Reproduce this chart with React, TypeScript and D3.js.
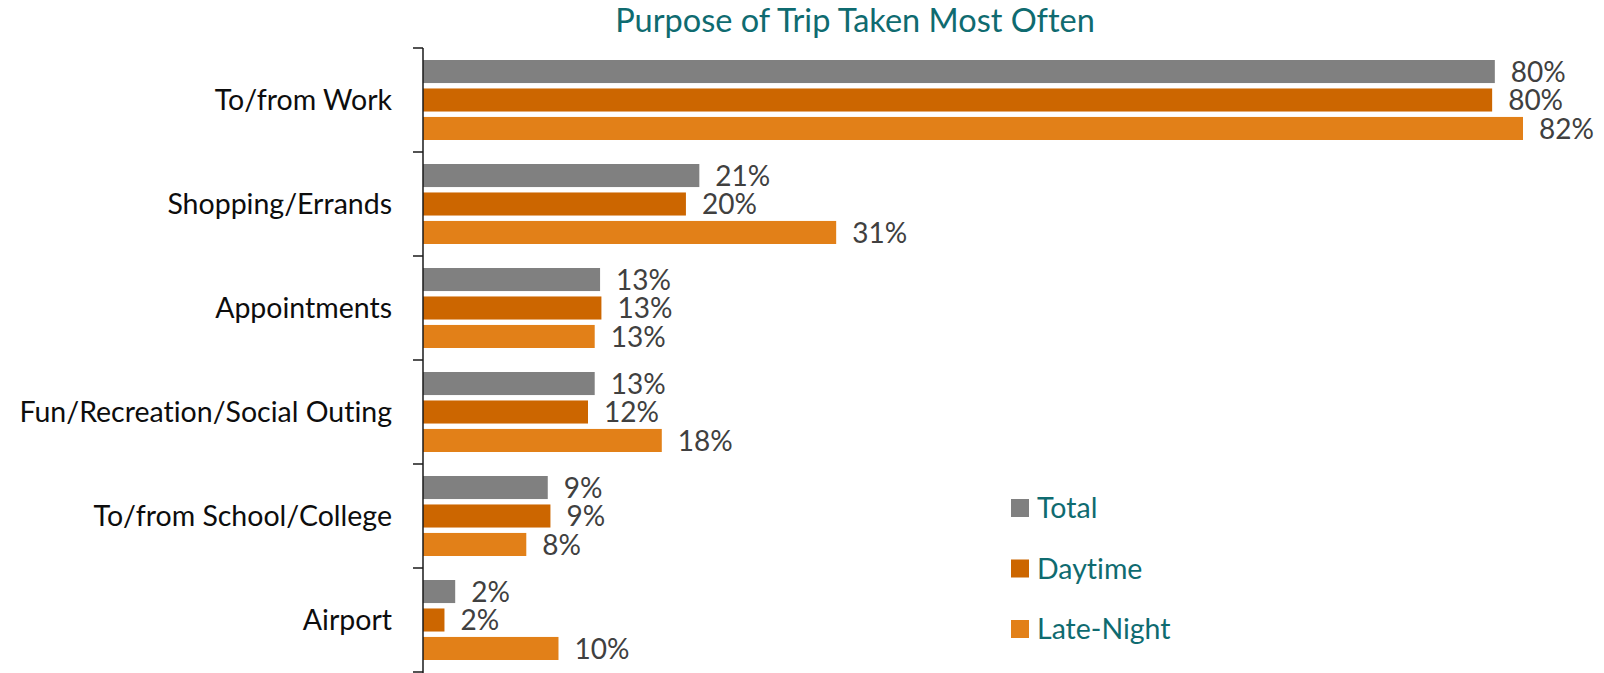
import { useRef, useEffect } from "react";
import * as d3 from "d3";

const categories = [
  "To/from Work",
  "Shopping/Errands",
  "Appointments",
  "Fun/Recreation/Social Outing",
  "To/from School/College",
  "Airport",
];
const seriesNames = ["Total", "Daytime", "Late-Night"];
const totalValues = [79.9, 20.6, 13.2, 12.8, 9.3, 2.4];
const daytimeValues = [79.7, 19.6, 13.3, 12.3, 9.5, 1.6];
const lateNightValues = [82.0, 30.8, 12.8, 17.8, 7.7, 10.1];
const totalLabels = ["80%", "21%", "13%", "13%", "9%", "2%"];
const daytimeLabels = ["80%", "20%", "13%", "12%", "9%", "2%"];
const lateNightLabels = ["82%", "31%", "13%", "18%", "8%", "10%"];

const COLORS = {
  Total: "#808080",
  Daytime: "#CC6600",
  "Late-Night": "#E28018",
  title: "#0F6B70",
  label: "#404040",
  cat: "#0d0d0d",
  axis: "#1a1a1a",
};

const FONT = "Lato, 'Open Sans', sans-serif";

export default function App() {
  const svgRef = useRef<SVGSVGElement>(null);
  const width = 1604;
  const height = 673;

  useEffect(() => {
    if (!svgRef.current) return;
    const svg = d3.select(svgRef.current);
    svg.selectAll("*").remove();

    const axisX = 423;
    const y0 = d3.scaleBand<string>().domain(categories).range([48, 672]);
    const y1 = d3
      .scaleBand<string>()
      .domain(seriesNames)
      .range([12, 92])
      .paddingInner(0.19);
    const x = d3.scaleLinear().domain([0, 82]).range([axisX, 1523]);

    const rows = categories.map((c, i) => ({
      cat: c,
      values: [
        { s: "Total", v: totalValues[i], label: totalLabels[i] },
        { s: "Daytime", v: daytimeValues[i], label: daytimeLabels[i] },
        { s: "Late-Night", v: lateNightValues[i], label: lateNightLabels[i] },
      ],
    }));

    // Title
    svg
      .append("text")
      .attr("x", 855)
      .attr("y", 32)
      .attr("text-anchor", "middle")
      .attr("fill", COLORS.title)
      .attr("font-family", FONT)
      .attr("font-size", "32.5px")
      .text("Purpose of Trip Taken Most Often");

    const groups = svg
      .append("g")
      .selectAll("g")
      .data(rows)
      .enter()
      .append("g")
      .attr("transform", (d) => `translate(0,${y0(d.cat)})`);

    groups
      .selectAll("rect")
      .data((d) => d.values)
      .enter()
      .append("rect")
      .attr("x", axisX)
      .attr("y", (d) => y1(d.s)!)
      .attr("width", (d) => x(d.v) - axisX)
      .attr("height", y1.bandwidth())
      .attr("fill", (d) => COLORS[d.s as keyof typeof COLORS]);

    groups
      .selectAll("text.val")
      .data((d) => d.values)
      .enter()
      .append("text")
      .attr("class", "val")
      .attr("x", (d) => x(d.v) + 16)
      .attr("y", (d) => y1(d.s)! + y1.bandwidth() / 2)
      .attr("dy", "0.36em")
      .attr("fill", COLORS.label)
      .attr("font-family", FONT)
      .attr("font-size", "28px")
      .text((d) => d.label);

    // Category axis
    const axis = svg.append("g");
    axis
      .append("line")
      .attr("x1", axisX)
      .attr("x2", axisX)
      .attr("y1", 48)
      .attr("y2", 673)
      .attr("stroke", COLORS.axis)
      .attr("stroke-width", 1.5);

    const tickYs = [...categories.map((c) => y0(c)!), y0.range()[1]];
    axis
      .selectAll("line.tick")
      .data(tickYs)
      .enter()
      .append("line")
      .attr("class", "tick")
      .attr("x1", axisX - 10)
      .attr("x2", axisX)
      .attr("y1", (d) => d)
      .attr("y2", (d) => d)
      .attr("stroke", COLORS.axis)
      .attr("stroke-width", 1.5);

    axis
      .selectAll("text")
      .data(categories)
      .enter()
      .append("text")
      .attr("x", 392)
      .attr("y", (d) => y0(d)! + y0.bandwidth() / 2)
      .attr("dy", "0.36em")
      .attr("text-anchor", "end")
      .attr("fill", COLORS.cat)
      .attr("font-family", FONT)
      .attr("font-size", "28.5px")
      .text((d) => d);

    // Legend
    const legend = svg
      .append("g")
      .selectAll("g")
      .data(seriesNames)
      .enter()
      .append("g")
      .attr("transform", (_, i) => `translate(1011,${499 + i * 60.5})`);

    legend
      .append("rect")
      .attr("width", 18)
      .attr("height", 18)
      .attr("fill", (d) => COLORS[d as keyof typeof COLORS]);

    legend
      .append("text")
      .attr("x", 26)
      .attr("y", 9)
      .attr("dy", "0.36em")
      .attr("fill", COLORS.title)
      .attr("font-family", FONT)
      .attr("font-size", "28.5px")
      .text((d) => d);
  }, []);

  return (
    <svg
      ref={svgRef}
      width={width}
      height={height}
      style={{
        position: "absolute",
        left: 0,
        top: 0,
        background: "#fff",
        fontVariantLigatures: "none",
      }}
    />
  );
}
